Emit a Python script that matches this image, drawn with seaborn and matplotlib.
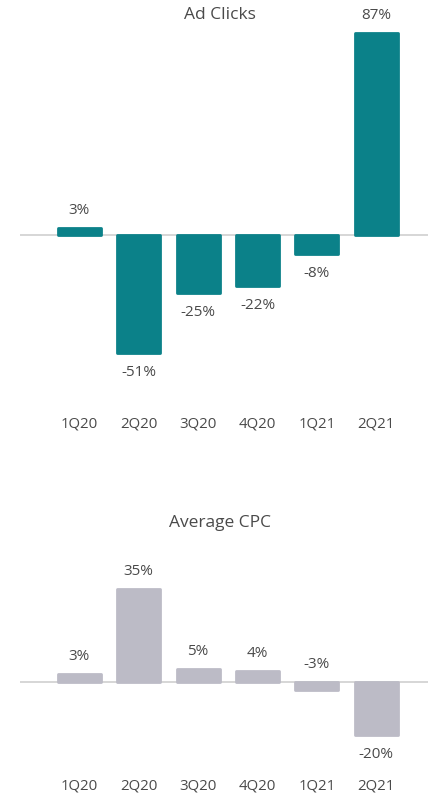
import matplotlib
matplotlib.use("Agg")
import matplotlib.pyplot as plt
import seaborn as sns
import pandas as pd

quarters = ["1Q20", "2Q20", "3Q20", "4Q20", "1Q21", "2Q21"]
ad_clicks = [3, -51, -25, -22, -8, 87]
avg_cpc = [3, 35, 5, 4, -3, -20]

TEAL = "#0B8189"
GRAY = "#BCBBC6"
TEXT = "#4A4A4A"
LINE = "#CFCFCF"

sns.set_theme(style="white")
plt.rcParams["font.family"] = ["Open Sans", "DejaVu Sans"]

W, H, DPI = 434, 807, 100
fig = plt.figure(figsize=(W / DPI, H / DPI), dpi=DPI)


def px_axes(top, bottom, left=20, right=428):
    return fig.add_axes([left / W, 1 - bottom / H, (right - left) / W, (bottom - top) / H])


def draw(ax, values, color, title, ylim, title_y_px):
    df = pd.DataFrame({"q": quarters, "v": values})
    sns.barplot(data=df, x="q", y="v", color=color, width=0.725, ax=ax,
                saturation=1, edgecolor=color, linewidth=2.0)
    for p in ax.patches:
        p.set_joinstyle("round")
    ax.set_ylim(*ylim)
    ax.set_xlim(-1.0, 5.87)
    ax.axhline(0, color=LINE, lw=1.2, zorder=0)
    for s in ax.spines.values():
        s.set_visible(False)
    ax.set_yticks([])
    ax.set_xlabel("")
    ax.set_ylabel("")
    ax.tick_params(axis="x", length=0, pad=5, labelsize=10.8, labelcolor=TEXT)
    for i, v in enumerate(values):
        if v >= 0 or abs(v) < 5:
            y, off = max(v, 0), 12.5
        else:
            y, off = v, -14
        ax.annotate(f"{v}%", (i, y), xytext=(0, off), textcoords="offset points",
                    ha="center", va="center", fontsize=11, color=TEXT,
                    annotation_clip=False)
    fig.text(220 / W, 1 - title_y_px / H, title, ha="center", va="center",
             fontsize=12.5, color=TEXT)


ax1 = px_axes(0, 410)
s1 = 2.32
draw(ax1, ad_clicks, TEAL, "Ad Clicks", (-(410 - 235) / s1, (235 - 0) / s1), 15)

ax2 = px_axes(540, 772)
s2 = 2.66
draw(ax2, avg_cpc, GRAY, "Average CPC", (-(772 - 682) / s2, (682 - 540) / s2), 523)

fig.savefig("out.png", dpi=DPI, facecolor="white")
